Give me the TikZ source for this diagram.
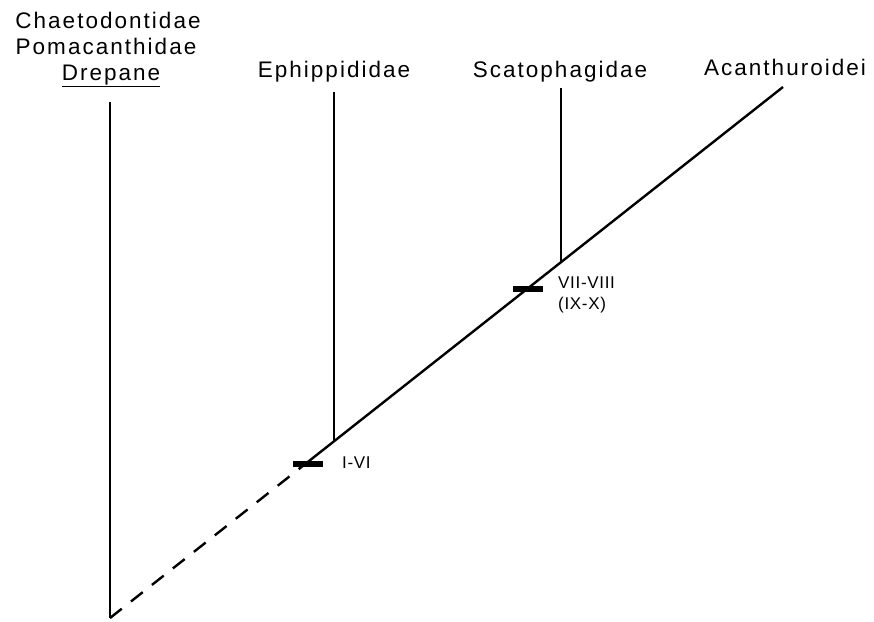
\documentclass[tikz,border=0pt]{standalone}
\usepackage{fontspec}
\setmainfont{Liberation Sans}
\newfontfamily\taxfont{Liberation Sans}[LetterSpace=9]
\newfontfamily\charfont{Liberation Sans}[LetterSpace=4]
\begin{document}
\begin{tikzpicture}[x=1pt,y=-1pt,
  branch/.style={line width=2.4pt},
  dashbranch/.style={line width=2.4pt, dash pattern=on 15pt off 11.7pt},
  taxon/.style={inner sep=0pt, anchor=base, font=\taxfont\fontsize{22.5}{26}\selectfont},
  charlab/.style={inner sep=0pt, anchor=mid west, font=\charfont\fontsize{17}{20}\selectfont},
  synbar/.style={fill=black, draw=none, minimum width=30pt, minimum height=6pt, inner sep=0pt}]
\useasboundingbox (0,0) rectangle (874,621);
% taxon labels
\node[taxon] (chae) at (108,28) {Chaetodontidae};
\node[taxon] (poma) at (106,54) {Pomacanthidae};
\node[taxon] (drep) at (111,80) {\underline{Drepane}};
\node[taxon] (ephi) at (334,77) {Ephippididae};
\node[taxon] (scat) at (560,77) {Scatophagidae};
\node[taxon] (acan) at (785,75) {Acanthuroidei};
% tree points
\coordinate (root) at (110,618);
\coordinate (dreT) at (110,102);
\coordinate (ephT) at (334,92);
\coordinate (ephJ) at (334,440.5);
\coordinate (scaT) at (561,88);
\coordinate (scaJ) at (561,263);
\coordinate (acaT) at (783,87);
\coordinate (dashE) at (307,462.6);
% branches
\draw[branch] (dreT) -- (root);
\draw[dashbranch] (root) -- (dashE);
\draw[branch] (dashE) -- (acaT);
\draw[branch] (ephT) -- (ephJ);
\draw[branch] (scaT) -- (scaJ);
% synapomorphy bars
\node[synbar] (bar1) at (307.5,464) {};
\node[synbar] (bar2) at (528,289) {};
% character labels
\node[charlab] (c1) at (342,466) {I-VI};
\node[charlab] (c2) at (558,286) {VII-VIII};
\node[charlab] (c3) at (558,307) {(IX-X)};
\end{tikzpicture}
\end{document}
